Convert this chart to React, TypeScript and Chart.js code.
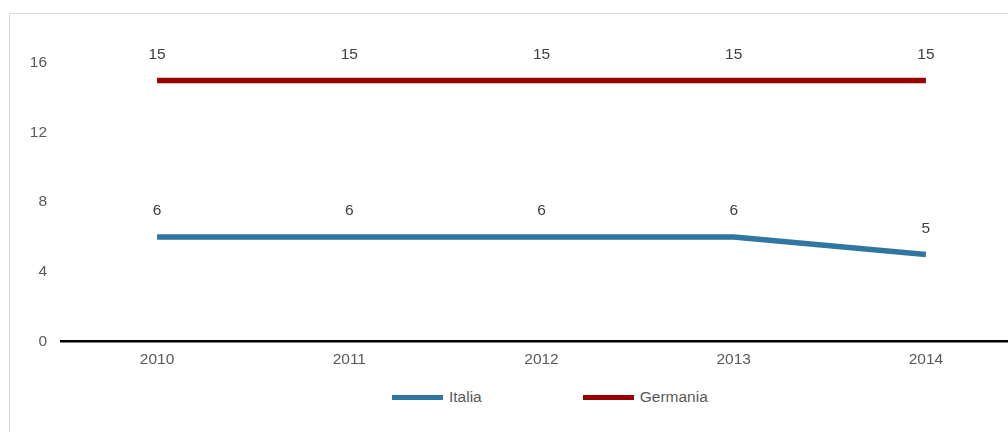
import React, { useEffect, useRef } from "react";
import { Chart, registerables } from "chart.js";

Chart.register(...registerables);

const years = ["2010", "2011", "2012", "2013", "2014"];
const italia = [6, 6, 6, 6, 5];
const germania = [15, 15, 15, 15, 15];
const yTicks = [0, 4, 8, 12, 16];
const seriesNames = ["Italia", "Germania"];
const seriesColors = ["#2f76a0", "#990000"];

const FONT = "'Liberation Sans', Arial, sans-serif";
const FS = 15.5;

const dataLabels = {
  id: "dataLabels",
  afterDatasetsDraw(chart: any) {
    const ctx = chart.ctx;
    ctx.save();
    ctx.font = `${FS}px ${FONT}`;
    ctx.fillStyle = "#404040";
    ctx.textAlign = "center";
    ctx.textBaseline = "middle";
    chart.data.datasets.forEach((ds: any, i: number) => {
      const meta = chart.getDatasetMeta(i);
      meta.data.forEach((pt: any, j: number) => {
        ctx.fillText(String(ds.data[j]), pt.x, pt.y - 26);
      });
    });
    ctx.restore();
  },
};

export default function App() {
  const ref = useRef<HTMLCanvasElement | null>(null);

  useEffect(() => {
    if (!ref.current) return;
    const chart = new Chart(ref.current, {
      type: "line",
      data: {
        labels: years,
        datasets: [
          {
            label: seriesNames[0],
            data: italia,
            borderColor: seriesColors[0],
            backgroundColor: seriesColors[0],
            borderWidth: 5.5,
            pointRadius: 0,
            tension: 0,
            borderCapStyle: "butt",
            borderJoinStyle: "round",
          },
          {
            label: seriesNames[1],
            data: germania,
            borderColor: seriesColors[1],
            backgroundColor: seriesColors[1],
            borderWidth: 5.5,
            pointRadius: 0,
            tension: 0,
            borderCapStyle: "butt",
            borderJoinStyle: "round",
          },
        ],
      },
      options: {
        responsive: false,
        animation: false,
        devicePixelRatio: 1,
        layout: { padding: { top: 49, right: 88, left: 0, bottom: 0 } },
        plugins: {
          legend: { display: false },
          tooltip: { enabled: false },
        },
        scales: {
          x: {
            type: "category",
            offset: true,
            grid: { display: false, drawTicks: false },
            border: { display: true, color: "#000000", width: 2.5 },
            ticks: {
              color: "#595959",
              font: { family: FONT, size: FS },
              padding: 9,
              maxRotation: 0,
            },
          },
          y: {
            min: 0,
            max: 16,
            grid: { display: false, drawTicks: false },
            border: { display: false },
            afterBuildTicks: (scale: any) => {
              scale.ticks = yTicks.map((v) => ({ value: v }));
            },
            afterFit: (scale: any) => {
              scale.width = 51;
            },
            ticks: {
              color: "#595959",
              font: { family: FONT, size: FS },
              padding: 14,
            },
          },
        },
      },
      plugins: [dataLabels],
    });
    return () => chart.destroy();
  }, []);

  return (
    <div
      style={{
        position: "fixed",
        left: 0,
        top: 0,
        width: "100vw",
        height: "100vh",
        overflow: "hidden",
        background: "#ffffff",
      }}
    >
      <div
        style={{
          position: "absolute",
          left: 9,
          top: 13,
          width: 1150,
          height: 500,
          border: "1px solid #d9d9d9",
        }}
      >
        <canvas
          ref={ref}
          width={1100}
          height={364}
          style={{ position: "absolute", left: 0, top: 0, width: 1100, height: 364 }}
        />
      </div>
      <div
        style={{
          position: "absolute",
          left: 392,
          top: 386,
          height: 22,
          display: "flex",
          alignItems: "center",
          fontFamily: FONT,
          fontSize: FS,
          color: "#595959",
        }}
      >
        {seriesNames.map((name, i) => (
          <div
            key={name}
            style={{ display: "flex", alignItems: "center", marginRight: i === 0 ? 101 : 0 }}
          >
            <span
              style={{
                display: "inline-block",
                width: 51,
                height: 5,
                background: seriesColors[i],
                marginRight: 6,
              }}
            />
            <span>{name}</span>
          </div>
        ))}
      </div>
    </div>
  );
}
